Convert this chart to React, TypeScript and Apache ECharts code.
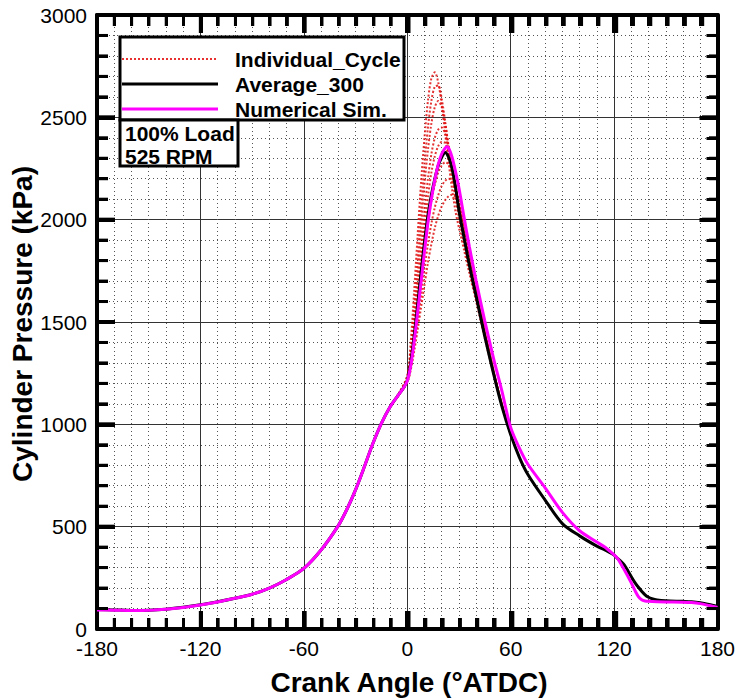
import React, { useEffect, useRef } from "react";
import * as echarts from "echarts";

// ---- Data ----
const AVG_ANGLE = [-180,-170,-160,-150,-140,-130,-120,-110,-100,-90,-80,-70,-60,-50,-40,-35,-30,-25,-20,-15,-10,-5,-2,0,2,4,6,8,10,12,14,16,18,20,22,24,26,28,30,33,36,40,45,50,55,60,65,70,80,90,100,110,115,120,122,124,126,128,130,132,134,136,138,140,142,145,150,160,165,170,175,180];
const AVG_P = [95,93,91,92,97,106,118,133,150,170,200,242,296,386,505,585,680,790,905,1005,1085,1145,1180,1215,1300,1430,1580,1740,1890,2020,2120,2200,2265,2305,2328,2305,2250,2160,2045,1910,1780,1625,1430,1250,1085,950,840,755,630,515,455,405,385,361,345,330,312,285,255,228,205,185,167,155,148,142,138,135,133,128,120,110];

const SIM_ANGLE = [-180,-170,-160,-150,-140,-130,-120,-110,-100,-90,-80,-70,-60,-50,-40,-35,-30,-25,-20,-15,-10,-5,-2,0,2,4,6,8,10,12,14,16,18,20,22,23,24,26,28,30,33,36,40,45,50,55,60,65,70,80,90,100,110,115,120,122,124,126,128,130,132,134,136,138,140,145,150,160,165,170,175,180];
const SIM_P = [93,92,90,91,96,105,117,132,150,170,200,242,296,386,505,585,680,790,905,1005,1085,1145,1180,1212,1285,1405,1545,1695,1845,1985,2100,2195,2270,2322,2350,2356,2350,2305,2235,2155,2010,1870,1700,1505,1325,1160,985,885,805,690,570,480,425,398,362,345,318,288,258,225,190,160,143,137,135,133,132,131,129,124,115,105];

const IND_ANGLE = [-10,-5,0,2,4,6,8,10,12,14,16,18,20,22,24,26,28,30,33,36,40,45,50,55,60];
const CYCLE_1 = [1085,1150,1240,1400,1650,1920,2180,2400,2580,2690,2720,2670,2560,2420,2280,2150,2040,1960,1850,1740,1600,1420,1250,1090,955];
const CYCLE_2 = [1085,1148,1230,1360,1560,1800,2050,2270,2450,2580,2650,2655,2590,2480,2350,2220,2100,2010,1880,1760,1615,1430,1255,1090,955];
const CYCLE_3 = [1085,1147,1225,1340,1510,1720,1950,2170,2340,2470,2550,2580,2550,2470,2360,2240,2130,2030,1900,1775,1625,1435,1255,1090,955];
const CYCLE_4 = [1085,1146,1220,1320,1470,1650,1850,2040,2200,2320,2400,2440,2450,2420,2350,2260,2160,2060,1920,1790,1635,1440,1258,1090,952];
const CYCLE_5 = [1085,1145,1218,1310,1445,1610,1790,1960,2110,2230,2310,2360,2380,2375,2330,2260,2170,2075,1935,1800,1640,1445,1260,1090,950];
const CYCLE_6 = [1085,1145,1212,1290,1410,1550,1700,1850,1980,2090,2170,2230,2265,2280,2270,2230,2160,2080,1950,1815,1650,1450,1262,1092,950];
const CYCLE_7 = [1085,1144,1208,1275,1380,1500,1630,1760,1880,1980,2060,2120,2165,2190,2200,2190,2150,2090,1970,1830,1660,1455,1265,1095,950];
const CYCLE_8 = [1085,1144,1205,1265,1355,1460,1570,1680,1790,1880,1960,2020,2065,2095,2115,2122,2110,2070,1970,1840,1670,1460,1268,1098,952];
const CYCLES = [CYCLE_1, CYCLE_2, CYCLE_3, CYCLE_4, CYCLE_5, CYCLE_6, CYCLE_7, CYCLE_8];

const X_MIN = -180, X_MAX = 180, X_STEP = 60, X_MINOR = 10;
const Y_MIN = 0, Y_MAX = 3000, Y_STEP = 500, Y_MINOR = 100;

const X_TICKS: number[] = [];
for (let v = X_MIN + X_MINOR; v < X_MAX; v += X_MINOR) X_TICKS.push(v);
const Y_TICKS: number[] = [];
for (let v = Y_MIN + Y_MINOR; v < Y_MAX; v += Y_MINOR) Y_TICKS.push(v);

const LEGEND_NAMES = ["Individual_Cycle", "Average_300", "Numerical Sim."];
const INFO_LINES = ["100% Load", "525 RPM"];
const X_TITLE = "Crank Angle (\u00B0ATDC)";
const Y_TITLE = "Cylinder Pressure (kPa)";

const FONT = '"Liberation Sans", Arial, Helvetica, sans-serif';
const W = 738, H = 698;
const GRID = { left: 97, right: 18, top: 15, bottom: 69 };

const zip = (a: number[], b: number[]) => a.map((v, i) => [v, b[i]]);

export default function App() {
  const ref = useRef<HTMLDivElement>(null);
  useEffect(() => {
    if (!ref.current) return;
    const chart = echarts.init(ref.current, undefined, { renderer: "svg" });

    const axisCommon = {
      axisLine: { show: true, onZero: false, lineStyle: { color: "#000", width: 4 } },
      axisTick: { show: true, inside: true, length: 18, lineStyle: { color: "#000", width: 4 } },
    };
    const xBase = {
      type: "value", min: X_MIN, max: X_MAX, interval: X_STEP, ...axisCommon,
      minorTick: { show: true, splitNumber: X_STEP / X_MINOR, length: 11, lineStyle: { color: "#000", width: 3 } },
    };
    const yBase = {
      type: "value", min: Y_MIN, max: Y_MAX, interval: Y_STEP, ...axisCommon,
      minorTick: { show: true, splitNumber: Y_STEP / Y_MINOR, length: 11, lineStyle: { color: "#000", width: 3 } },
    };

    const series: any[] = [];
    CYCLES.forEach((c, i) => {
      series.push({
        type: "line",
        name: "cycle" + (i + 1),
        data: zip(IND_ANGLE, c),
        showSymbol: false,
        symbol: "none",
        smooth: 0.3,
        z: 2,
        lineStyle: { color: "#e01010", width: 2, type: [2, 2], opacity: 0.85 },
      });
    });
    series.push({
      type: "line", name: LEGEND_NAMES[1], data: zip(AVG_ANGLE, AVG_P),
      showSymbol: false, symbol: "none", smooth: 0.3, z: 3,
      lineStyle: { color: "#000", width: 3 },
    });
    series.push({
      type: "line", name: LEGEND_NAMES[2], data: zip(SIM_ANGLE, SIM_P),
      showSymbol: false, symbol: "none", smooth: 0.3, z: 4,
      lineStyle: { color: "#ff00ff", width: 3 },
    });

    // Inside ticks on all four sides, also drawn as filled rectangles
    const plotW = W - GRID.left - GRID.right;
    const plotH = H - GRID.top - GRID.bottom;
    const sx = (v: number) => GRID.left + ((v - X_MIN) / (X_MAX - X_MIN)) * plotW;
    const sy = (v: number) => GRID.top + plotH - ((v - Y_MIN) / (Y_MAX - Y_MIN)) * plotH;
    const L = GRID.left, R = GRID.left + plotW, T = GRID.top, B = GRID.top + plotH;
    const MAJ = 18, MIN = 11;
    const tickRects: any[] = [];
    X_TICKS.forEach((v) => {
      const major = v % X_STEP === 0;
      const len = major ? MAJ : MIN;
      const w = major ? 4 : 3;
      const x = sx(v) - w / 2;
      tickRects.push({ type: "rect", z: 60, shape: { x, y: B - len, width: w, height: len }, style: { fill: "#000" } });
      tickRects.push({ type: "rect", z: 60, shape: { x, y: T, width: w, height: len }, style: { fill: "#000" } });
    });
    Y_TICKS.forEach((v) => {
      const major = v % Y_STEP === 0;
      const len = major ? MAJ : MIN;
      const w = major ? 4 : 3;
      const y = sy(v) - w / 2;
      tickRects.push({ type: "rect", z: 60, shape: { x: L, y, width: len, height: w }, style: { fill: "#000" } });
      tickRects.push({ type: "rect", z: 60, shape: { x: R - len, y, width: len, height: w }, style: { fill: "#000" } });
    });

    const plain = (v: number) => String(v);
    const legendRows = [59, 84, 109];
    const textStyle = (t: string) => ({ text: t, fill: "#000", fontSize: 21, fontWeight: "bold", fontFamily: FONT, align: "left", verticalAlign: "middle", textAlign: "left", textVerticalAlign: "middle" });
    const graphic: any[] = [
      ...tickRects,
      { type: "rect", z: 100, shape: { x: 120, y: 37, width: 284, height: 83 }, style: { fill: "#fff", stroke: "#000", lineWidth: 3 } },
      { type: "line", z: 101, shape: { x1: 122, y1: legendRows[0], x2: 218, y2: legendRows[0] }, style: { stroke: "#e83030", lineWidth: 2, lineDash: [2, 2] } },
      { type: "line", z: 101, shape: { x1: 122, y1: legendRows[1], x2: 218, y2: legendRows[1] }, style: { stroke: "#000", lineWidth: 3 } },
      { type: "line", z: 101, shape: { x1: 122, y1: legendRows[2], x2: 218, y2: legendRows[2] }, style: { stroke: "#ff00ff", lineWidth: 3 } },
      ...LEGEND_NAMES.map((n, i) => ({ type: "text", z: 101, x: 235, y: legendRows[i], style: textStyle(n) })),
      { type: "rect", z: 100, shape: { x: 120, y: 120, width: 118, height: 46 }, style: { fill: "#fff", stroke: "#000", lineWidth: 3 } },
      ...INFO_LINES.map((t, i) => ({ type: "text", z: 101, x: 125, y: [133, 156][i], style: textStyle(t) })),
      {
        type: "text", z: 101, x: 409, y: 682,
        style: { text: X_TITLE, fill: "#000", fontSize: 28, fontWeight: "bold", fontFamily: FONT, align: "center", verticalAlign: "middle", textAlign: "center", textVerticalAlign: "middle" },
      },
      {
        type: "text", z: 101, x: 22, y: 324, rotation: Math.PI / 2,
        style: { text: Y_TITLE, fill: "#000", fontSize: 28, fontWeight: "bold", fontFamily: FONT, align: "center", verticalAlign: "middle", textAlign: "center", textVerticalAlign: "middle" },
      },
    ];

    chart.setOption({
      animation: false,
      backgroundColor: "#fff",
      grid: { ...GRID, containLabel: false },
      xAxis: [
        {
          ...xBase,
          position: "bottom",
          axisLabel: { show: true, color: "#000", fontSize: 21, fontFamily: FONT, margin: 9, formatter: plain },
          splitLine: { show: true, lineStyle: { color: "#333", width: 1 } },
          minorSplitLine: { show: true, lineStyle: { color: "#555", width: 1, type: [1, 3] } },
        },
        { ...xBase, position: "top", axisLabel: { show: false }, splitLine: { show: false } },
      ],
      yAxis: [
        {
          ...yBase,
          position: "left",
          axisLabel: { show: true, color: "#000", fontSize: 21, fontFamily: FONT, margin: 10, formatter: plain },
          splitLine: { show: true, lineStyle: { color: "#333", width: 1 } },
          minorSplitLine: { show: true, lineStyle: { color: "#555", width: 1, type: [1, 3] } },
        },
        { ...yBase, position: "right", axisLabel: { show: false }, splitLine: { show: false } },
      ],
      series,
      graphic,
    });
    return () => chart.dispose();
  }, []);
  return <div ref={ref} style={{ position: "fixed", left: 0, top: 0, width: W, height: H }} />;
}
